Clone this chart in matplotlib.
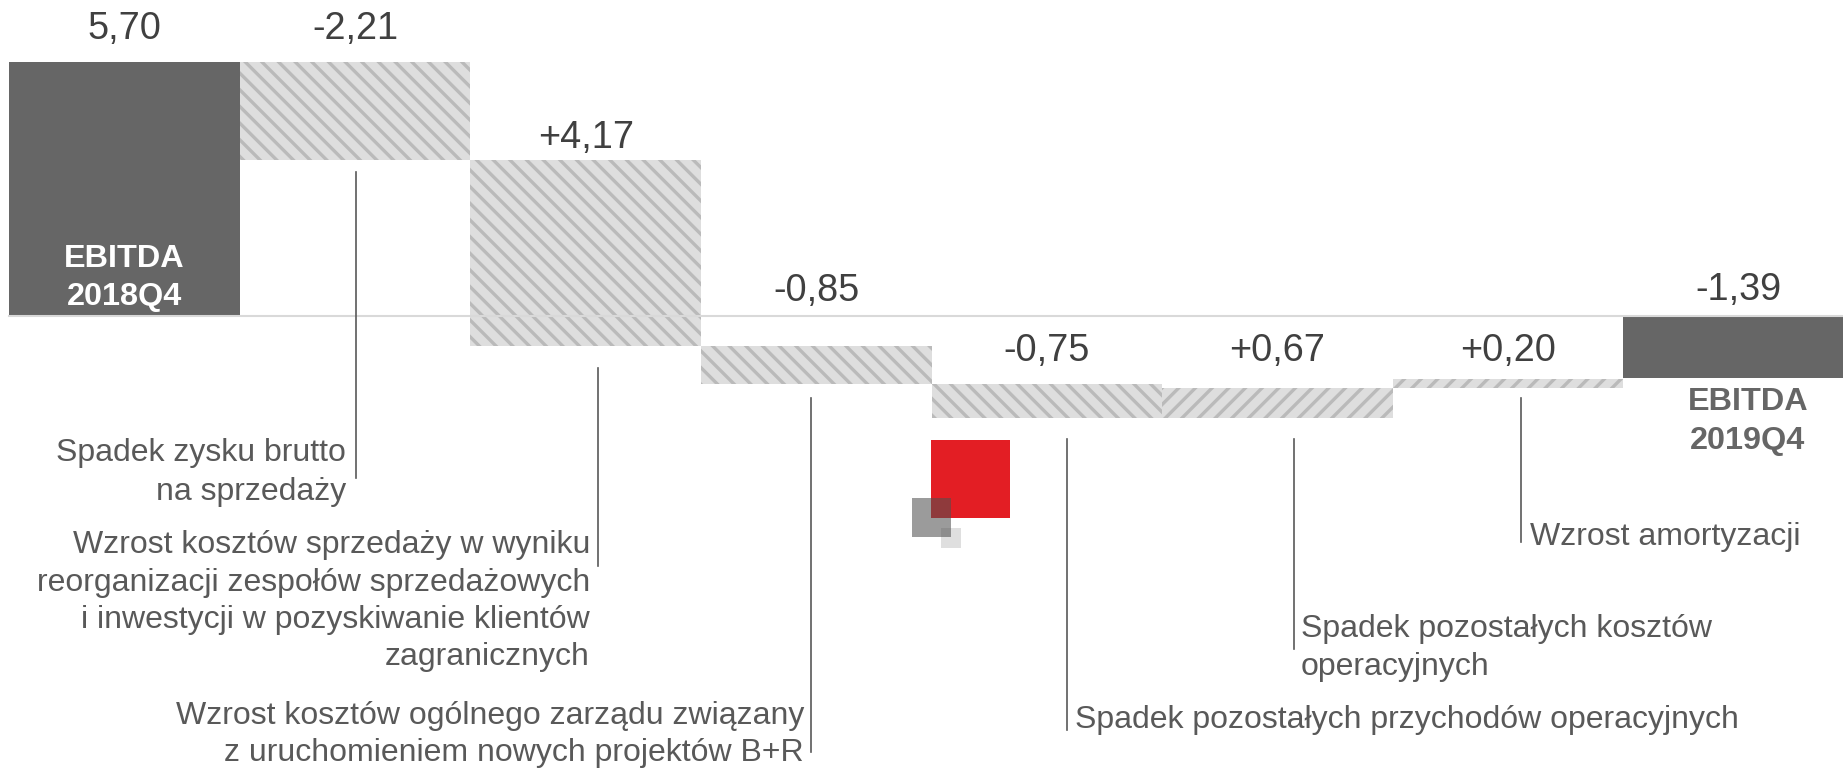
import matplotlib
matplotlib.use("Agg")
import matplotlib.pyplot as plt
from matplotlib.patches import Rectangle
from matplotlib.lines import Line2D
from matplotlib.transforms import blended_transform_factory

plt.rcParams['font.family'] = ['Liberation Sans', 'DejaVu Sans']
plt.rcParams['hatch.linewidth'] = 2.4

# === Data ===
start_value = 5.70
end_value = -1.39
changes = [-2.21, -4.17, -0.85, -0.75, 0.67, 0.20]   # effect on EBITDA
value_labels = ['5,70', '-2,21', '+4,17', '-0,85', '-0,75', '+0,67', '+0,20', '-1,39']
start_name = ['EBITDA', '2018Q4']
end_name = ['EBITDA', '2019Q4']
descriptions = [
    ['Spadek zysku brutto', 'na sprzedaży'],
    ['Wzrost kosztów sprzedaży w wyniku', 'reorganizacji zespołów sprzedażowych',
     'i inwestycji w pozyskiwanie klientów', 'zagranicznych'],
    ['Wzrost kosztów ogólnego zarządu związany', 'z uruchomieniem nowych projektów B+R'],
    ['Spadek pozostałych przychodów operacyjnych'],
    ['Spadek pozostałych kosztów', 'operacyjnych'],
    ['Wzrost amortyzacji'],
]

# === Layout (pixels of the 1843x768 picture, y from top) ===
W, H = 1843, 768
label_base = [39, 39, 148, 301, 361, 361, 361, 300]
# text x, alignment, first baseline, line step, leader x, leader top, leader bottom
desc_layout = [
    (346, 'right', 461, 39, 356, 172, 478),
    (590, 'right', 553, 37.5, 598, 368, 566),
    (804, 'right', 724, 37, 811, 398, 752),
    (1075, 'left', 728, 37, 1067, 439, 730),
    (1301, 'left', 637, 38, 1294, 439, 649),
    (1530, 'left', 545, 37, 1521, 398, 542),
]

dark = '#666666'
hatch_face = '#dedede'
hatch_line = '#bababa'
text_col = '#404040'
desc_col = '#595959'


def fx(x):
    return x / W


def fy(y):
    return 1 - y / H


fig = plt.figure(figsize=(18.43, 7.68), dpi=100)
ax = fig.add_axes([0, 0, 1, 1])
ax.axis('off')
ax.set_xlim(-0.54, 7.452)
ax.set_ylim(-10.135, 7.085)

# start and end bars
ax.bar(0, start_value, width=1.0, color=dark, zorder=2)
ax.bar(7, end_value, width=1.0, color=dark, zorder=2)

# change bars
level = start_value
for i, c in enumerate(changes, start=1):
    ax.bar(i, c, bottom=level, width=1.0, facecolor=hatch_face,
           edgecolor=hatch_line, linewidth=0,
           hatch='\\\\' if c < 0 else '//', zorder=2)
    level += c

# zero line
ax.plot([-0.5, 7.5], [0, 0], color='#d9d9d9', lw=1.5, zorder=3)

# value labels
tr = blended_transform_factory(ax.transData, fig.transFigure)
for i, lab in enumerate(value_labels):
    ax.text(i, fy(label_base[i]), lab, transform=tr, ha='center', va='baseline',
            fontsize=27.3, color=text_col)

# EBITDA names
for j, line in enumerate(start_name):
    ax.text(0, fy(267 + 38 * j), line, transform=tr, ha='center', va='baseline',
            fontsize=23.3, fontweight='bold', color='white', zorder=4)
for j, line in enumerate(end_name):
    ax.text(7.04, fy(410 + 39 * j), line, transform=tr, ha='center', va='baseline',
            fontsize=23.3, fontweight='bold', color=dark, zorder=4)

# descriptions with leader lines
for lines, (tx, align, base, step, lx, ltop, lbot) in zip(descriptions, desc_layout):
    for j, line in enumerate(lines):
        fig.text(fx(tx), fy(base + step * j), line, ha=align, va='baseline',
                 fontsize=23, color=desc_col)
    fig.add_artist(Line2D([fx(lx), fx(lx)], [fy(ltop), fy(lbot)],
                          color=desc_col, lw=1.2, transform=fig.transFigure))

# logo squares
fig.add_artist(Rectangle((fx(931), fy(518)), 79 / W, 78 / H, color='#e31e24',
                         lw=0, transform=fig.transFigure))
fig.add_artist(Rectangle((fx(912), fy(537)), 39 / W, 39 / H, color='#505050',
                         alpha=0.57, lw=0, transform=fig.transFigure))
fig.add_artist(Rectangle((fx(941), fy(548)), 20 / W, 20 / H, color='#505050',
                         alpha=0.18, lw=0, transform=fig.transFigure))

fig.savefig('out.png', dpi=100)
